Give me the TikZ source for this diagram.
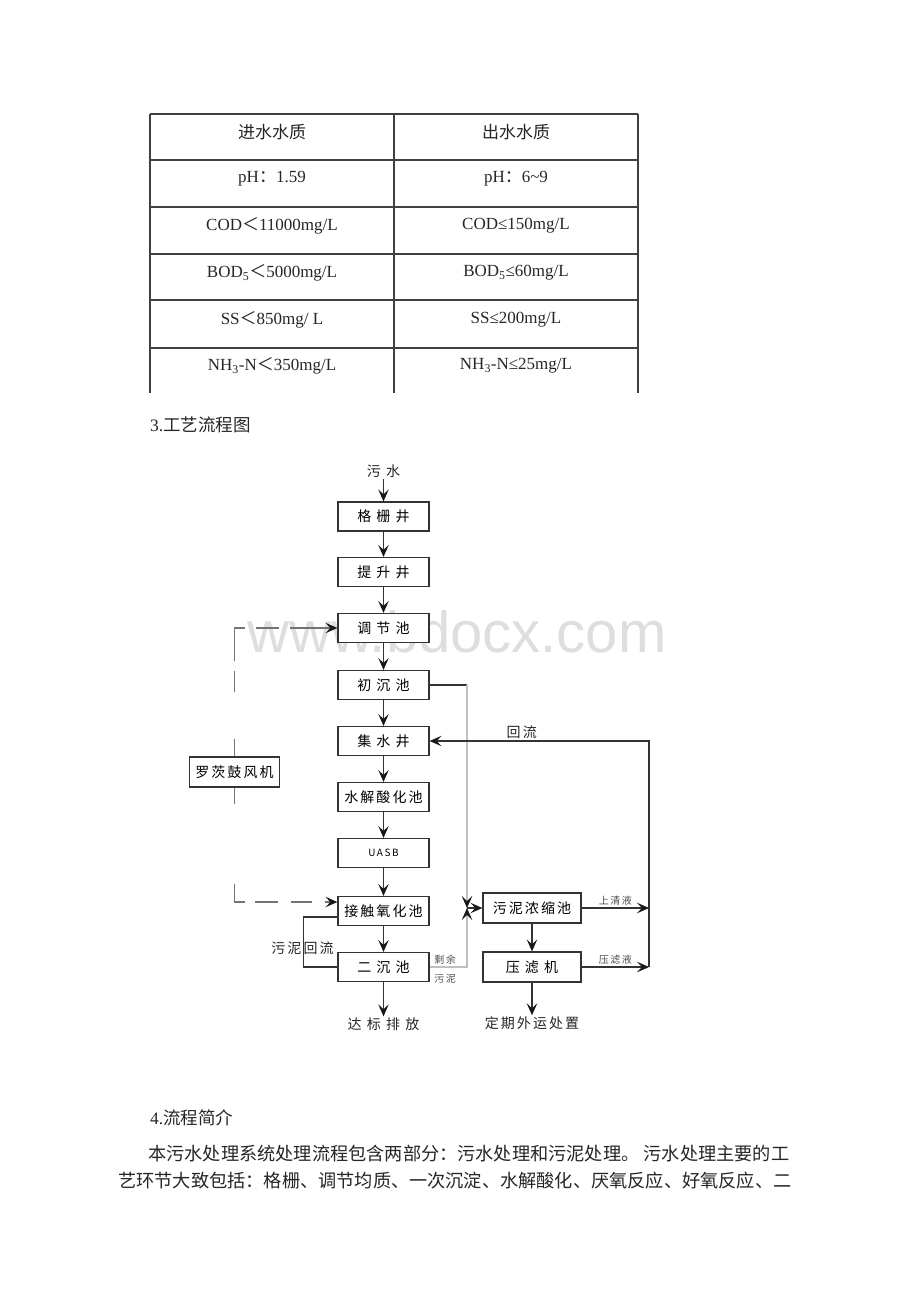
\documentclass[tikz,border=0pt]{standalone}
\usepackage{fontspec}
\setmainfont{Liberation Serif}
\newfontfamily\cjk{Noto Sans CJK SC}
\newfontfamily\cjkls[LetterSpace=15]{Noto Sans CJK SC}
\newfontfamily\wmfont{Liberation Sans}
\usetikzlibrary{arrows.meta,positioning,calc}

\begin{document}
\begin{tikzpicture}[x=1pt,y=-1pt,>={Stealth[length=12pt,width=10.5pt,inset=5pt,color=black!90]},
  box/.style={draw=black!80, line width=1.2pt, fill=white, minimum width=91pt,
    minimum height=29pt, inner sep=0pt, font=\cjkls\fontsize{14}{14}\selectfont},
  flow/.style={draw=black!80, line width=1.2pt},
  faint/.style={draw=black!25, line width=1.2pt,
    -{Stealth[length=12pt,width=10.5pt,inset=5pt,color=black!90]}},
  air/.style={draw=black!55, line width=1.2pt},
  tab/.style={draw=black!75, line width=1.1pt},
  cell/.style={inner sep=0pt, text=black!85, font=\fontsize{17}{19}\selectfont},
  lbl/.style={inner sep=1pt, text=black!85, font=\cjkls\fontsize{14}{14}\selectfont},
  smalllbl/.style={inner sep=2pt, text=black!70, font=\cjkls\fontsize{10}{10}\selectfont}]
  \useasboundingbox (0,0) rectangle (920,1302);
  \fill[white] (0,0) rectangle (920,1302);
  % watermark
  \node[anchor=base, inner sep=0pt, text=black!13,
    font=\wmfont\fontsize{58}{58}\selectfont] (wmark) at (457,652) {www.bdocx.com};
  % quality table
  \foreach \y in {114,160,207,254,300,348}
    \draw[tab] (150,\y) -- (638,\y);
  \foreach \x in {150,394,638}
    \draw[tab] (\x,114) -- (\x,393);
  \node[cell] (inhead) at (272,132) {\cjk 进水水质};
  \node[cell] (outhead) at (516,132) {\cjk 出水水质};
  \node[cell] (inph) at (272,179) {pH{\cjk ：}1.59};
  \node[cell] (outph) at (516,179) {pH{\cjk ：}6\textasciitilde 9};
  \node[cell] (incod) at (272,226) {COD{\cjk ＜}11000mg/L};
  \node[cell] (outcod) at (516,226) {COD≤150mg/L};
  \node[cell] (inbod) at (272,273) {BOD\textsubscript{5}{\cjk ＜}5000mg/L};
  \node[cell] (outbod) at (516,273) {BOD\textsubscript{5}≤60mg/L};
  \node[cell] (inss) at (272,320) {SS{\cjk ＜}850mg/ L};
  \node[cell] (outss) at (516,320) {SS≤200mg/L};
  \node[cell] (innh) at (272,366) {NH\textsubscript{3}-N{\cjk ＜}350mg/L};
  \node[cell] (outnh) at (516,366) {NH\textsubscript{3}-N≤25mg/L};
  \node[anchor=west, inner sep=0pt, text=black!85, font=\fontsize{17.5}{17.5}\selectfont]
    (headthree) at (150,425) {3.{\cjk 工艺流程图}};

  % main line
  \node[lbl] (water) at (383.5,471) {污 水};
  \node[box] (grate) at (383.5,516.5) {格 栅 井};
  \node[box] (lift) at (383.5,572) {提 升 井};
  \node[box] (regul) at (383.5,628) {调 节 池};
  \node[box] (primary) at (383.5,685) {初 沉 池};
  \node[box] (collect) at (383.5,741) {集 水 井};
  \node[box] (hydro) at (383.5,797) {水解酸化池};
  \node[box, font=\cjkls\fontsize{10}{10}\selectfont] (uasb) at (383.5,853) {UASB};
  \node[box] (contact) at (383.5,911) {接触氧化池};
  \node[box] (second) at (383.5,967) {二 沉 池};
  \node[lbl] (discharge) at (383.5,1024) {达 标 排 放};
  \draw[flow,->] (water) -- (grate);
  \foreach \a/\b in {grate/lift, lift/regul, regul/primary, primary/collect,
      collect/hydro, hydro/uasb, uasb/contact, contact/second, second/discharge}
    \draw[flow,->] (\a) -- (\b);

  % blower and air lines
  \node[box, minimum width=90pt, minimum height=30pt] (blower) at (234.5,772) {罗茨鼓风机};
  \coordinate (cinlet) at ([yshift=9pt]contact.west);
  \draw[air, ->, dash pattern=on 17pt off 47pt on 21pt off 10pt on 44pt off 11pt on 23pt off 11pt on 60pt]
    (blower.north) -- (blower.north |- regul.west) -- (regul.west);
  \draw[air, ->, dash pattern=on 16pt off 80pt on 29pt off 10pt on 23pt off 13pt on 21pt off 13pt on 60pt]
    (blower.south) -- (blower.south |- cinlet) -- (cinlet);

  % sludge return
  \coordinate (cout) at ([yshift=-6pt]contact.west);
  \draw[flow] (cout) -- ++(-34,0) |- (second.west);
  \node[lbl] (lblrecyc) at (302.5,948) {污泥回流};

  % excess sludge
  \node[box, minimum width=98pt, minimum height=30pt] (thicken) at (532,908) {污泥浓缩池};
  \node[box, minimum width=98pt, minimum height=30pt] (press) at (532,967) {压 滤 机};
  \node[lbl] (disposal) at (532,1023) {定期外运处置};
  \coordinate (junc) at (467,908);
  \draw[flow] (primary.east) -- (primary.east -| junc);
  \draw[faint] (primary.east -| junc) -- (junc);
  \draw[faint] (second.east) -- (second.east -| junc) -- (junc);
  \node[smalllbl] (lblrest) at (445,960) {剩余};
  \node[smalllbl] (lblsludge) at (445,979) {污泥};
  \draw[flow,->] (junc) -- (thicken);
  \draw[flow,->] (thicken) -- (press);
  \draw[flow,->] (press) -- (disposal);

  % liquor back to the collecting well
  \coordinate (rettop) at (649,741);
  \draw[flow,->] (thicken) -- (thicken -| rettop)
    node[midway, above, smalllbl] (lblsuper) {上清液};
  \draw[flow,->] (press) -- (press -| rettop)
    node[midway, above, smalllbl] (lblfilt) {压滤液};
  \draw[flow,->] (press -| rettop) -- (rettop)
    -- node[pos=0.58, above, lbl, inner sep=2pt] (lblret) {回流} (collect);

  % text below
  \node[anchor=west, inner sep=0pt, text=black!85, font=\fontsize{17.5}{17.5}\selectfont]
    (headfour) at (150,1118) {4.{\cjk 流程简介}};
  \node[anchor=west, inner sep=0pt, text=black!85, font=\cjk\fontsize{18.2}{18.2}\selectfont]
    (parone) at (148,1154) {本污水处理系统处理流程包含两部分：污水处理和污泥处理。 污水处理主要的工};
  \node[anchor=west, inner sep=0pt, text=black!85, font=\cjk\fontsize{18.2}{18.2}\selectfont]
    (partwo) at (118,1181) {艺环节大致包括：格栅、调节均质、一次沉淀、水解酸化、厌氧反应、好氧反应、二};
\end{tikzpicture}
\end{document}
